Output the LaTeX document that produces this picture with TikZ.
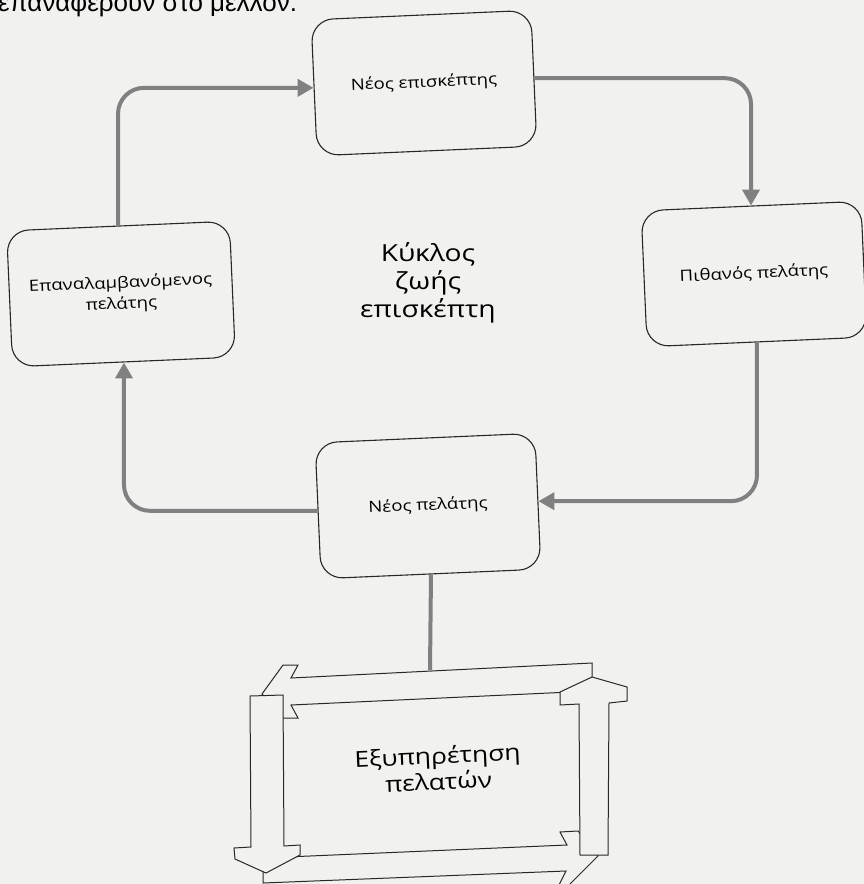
\documentclass[tikz,border=0pt]{standalone}
\usepackage{fontspec}
\setmainfont{Open Sans}[FakeStretch=1.2]
\newfontfamily\bodyfont{Liberation Sans}
\usetikzlibrary{arrows.meta}

\definecolor{paper}{RGB}{241,241,239}
\definecolor{ink}{RGB}{40,40,40}
\definecolor{flow}{RGB}{128,128,128}

\begin{document}
\begin{tikzpicture}[x=1pt,y=-1pt,
  stage/.style={draw=ink, line width=1.1pt, rounded corners=22pt,
    minimum width=220pt, minimum height=136pt, align=center,
    font=\fontsize{15.5}{21}\selectfont, rotate=2.5, inner sep=0pt},
  flowline/.style={draw=flow, line width=4pt, rounded corners=26pt,
    -{Triangle[length=16pt,width=17pt]}},
  plainline/.style={draw=flow, line width=4pt},
  blockarrow/.style={draw=ink, line width=1pt, fill=paper, line join=miter}]

% page and background
\fill[paper] (0,0) rectangle (864,884);
\useasboundingbox (0,0) rectangle (864,884);

% running text of the page above the figure, cut by the page edge
\node[anchor=base west, inner sep=0pt, font=\bodyfont\fontsize{26}{30}\selectfont]
  (runin) at (-2,11) {επαναφέρουν στο μέλλον.};

% the four stages of the cycle
\node[stage] (visitor)  at (424,83)  {Νέος επισκέπτης};
\node[stage] (prospect) at (754,274) {Πιθανός πελάτης};
\node[stage] (customer) at (428,506) {Νέος πελάτης};
\node[stage, minimum width=223pt] (returning) at (121,294)
  {Επαναλαμβανόμενος\\πελάτης};

% centre title
\node[align=center, font=\fontsize{23.5}{28}\selectfont]
  (title) at (428,283) {Κύκλος\\ζωής\\επισκέπτη};

% cycle connectors
\draw[flowline] (returning.north) |- (visitor.west);
\draw[flowline] (visitor.east) -| (prospect.north);
\draw[flowline] (prospect.south) |- (customer.east);
\draw[flowline] (customer.west) -| (returning.south);

% customer service frame of four block arrows
\coordinate (frametop) at (430,670);
\draw[plainline] (customer.south) -- (frametop);

% top arrow, pointing left
\draw[blockarrow] (592,663) -- (291,678) -- (298,665) -- (283,665) -- (262,694)
  -- (283,718) -- (298,718) -- (291,705) -- (592,691) -- cycle;
% bottom arrow, pointing right
\draw[blockarrow] (263,883) -- (263,858) -- (567,845) -- (560,832) -- (578,831)
  -- (598,856) -- (569,885) -- (559,885) -- (566,871) -- cycle;
% left arrow, pointing down
\draw[blockarrow] (250,696) -- (283,695) -- (284,846) -- (300,845) -- (300,855)
  -- (266,873) -- (235,859) -- (234,848) -- (251,847) -- cycle;
% right arrow, pointing up
\draw[blockarrow] (592,677) -- (627,687) -- (627,701) -- (609,703) -- (608,855)
  -- (580,855) -- (579,704) -- (560,705) -- (560,692) -- cycle;

\node[align=center, font=\fontsize{22}{26}\selectfont, rotate=2.5]
  (service) at (438,768) {Εξυπηρέτηση\\πελατών};
\end{tikzpicture}
\end{document}
